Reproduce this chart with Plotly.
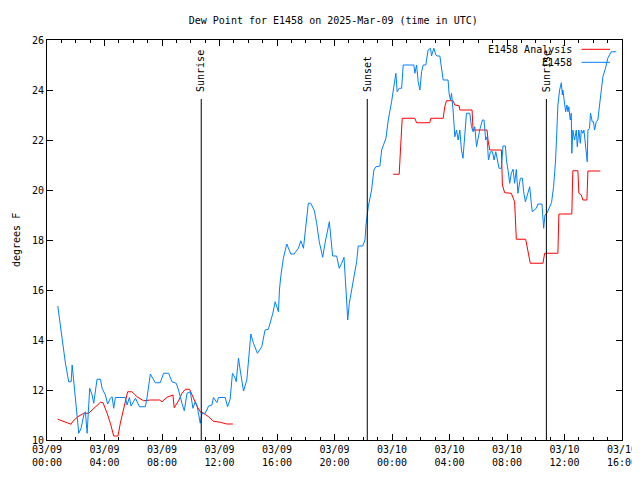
import plotly.graph_objects as go
from datetime import datetime, timedelta

# ---- data (hours after 2025-03-09 00:00 UTC, dew point in degrees F) ----
obs_hours = [0.75,0.94,1.28,1.51,1.68,1.75,1.82,1.98,2.14,2.21,2.37,2.56,2.67,2.79,2.97,3.14,3.25,3.48,3.72,3.83,
             4.06,4.22,4.41,4.53,4.64,4.76,5.45,5.57,5.73,5.85,6.15,6.44,6.84,6.96,7.19,7.53,7.88,8.11,8.46,8.69,
             8.99,9.15,9.39,9.55,9.74,9.97,10.15,10.31,10.43,10.54,10.66,10.78,11.01,11.24,11.47,11.58,11.82,11.93,
             12.4,12.56,12.74,12.9,13.09,13.16,13.32,13.44,13.67,13.9,14.08,14.18,14.36,14.64,14.94,15.17,15.4,
             15.71,15.87,16.03,16.1,16.17,16.26,16.44,16.68,16.96,17.19,17.49,17.66,17.84,18.0,18.18,18.35,18.6,
             18.76,18.94,19.18,19.34,19.64,19.87,20.15,20.33,20.5,20.66,20.8,20.92,21.03,21.31,21.54,21.65,21.96,
             22.12,22.19,22.35,22.58,22.74,22.88,23.16,23.28,23.58,23.74,23.97,24.2,24.27,24.36,24.5,24.67,24.78,
             25.52,25.59,25.71,25.82,25.94,26.06,26.17,26.35,26.51,26.68,26.75,26.91,27.05,27.14,27.33,27.47,27.56,
             27.9,27.97,28.07,28.14,28.25,28.37,28.49,28.6,28.72,28.83,28.94,29.06,29.18,29.41,29.53,29.64,29.76,
             29.88,29.99,30.1,30.29,30.4,30.52,30.61,30.71,30.85,30.99,31.1,31.22,31.31,31.45,31.61,31.72,31.89,
             31.96,32.07,32.19,32.3,32.42,32.53,32.65,32.76,32.93,33.07,33.16,33.28,33.46,33.58,33.69,33.76,34.04,
             34.15,34.43,34.5,34.55,34.64,34.78,34.97,35.1,35.24,35.38,35.47,35.54,35.66,35.78,35.85,35.89,35.96,
             36.08,36.17,36.24,36.3,36.4,36.47,36.51,36.58,36.7,36.82,36.89,37.0,37.1,37.17,37.28,37.35,37.44,
             37.51,37.58,37.63,37.74,37.81,37.93,38.02,38.09,38.21,38.32,38.44,38.56,38.67,38.85,39.01,39.25,39.6]
obs_values = [15.36,14.53,13.08,12.33,12.33,13.0,12.6,11.73,10.93,10.27,10.47,11.0,11.13,10.27,12.07,11.8,11.47,12.43,12.43,12.07,
              11.8,11.44,11.67,11.73,11.27,11.7,11.7,11.4,11.7,11.36,11.67,11.33,11.33,11.7,12.64,12.29,12.29,12.67,12.67,12.33,
              12.27,12.0,11.47,11.17,11.87,11.93,11.27,11.53,11.4,11.0,10.67,11.07,11.07,11.36,11.4,11.7,11.5,11.7,
              11.7,11.33,11.63,12.67,12.47,12.33,13.27,12.8,11.96,12.4,13.4,14.24,13.87,13.47,13.73,14.4,14.43,
              15.07,15.53,15.27,15.13,16.0,16.53,17.27,17.84,17.44,17.44,17.67,17.97,17.67,18.6,19.47,19.47,19.17,
              18.67,17.93,17.31,17.87,18.73,17.36,17.36,16.87,17.07,17.31,16.0,14.8,15.47,16.4,17.13,17.76,17.76,
              18.0,18.6,19.33,20.0,20.8,20.93,20.96,21.6,22.07,22.8,23.53,24.4,24.67,23.93,24.07,24.07,25.0,
              25.0,24.67,25.0,24.33,24.0,24.73,25.0,25.0,25.6,25.67,25.36,25.67,25.4,25.36,25.36,24.87,24.4,
              24.4,23.87,23.6,23.87,23.2,22.13,22.4,22.0,22.4,21.6,21.27,22.13,23.07,23.07,22.53,22.33,22.53,
              21.73,22.13,22.4,22.8,22.8,22.0,22.13,21.2,21.53,21.53,21.2,21.53,21.27,20.87,20.87,21.76,21.76,
              21.2,20.8,20.27,20.67,20.83,20.27,20.82,19.87,20.47,20.47,19.93,19.53,19.87,20.13,19.47,19.13,19.27,
              19.44,19.44,18.8,18.47,19.0,19.07,19.33,19.5,20.13,21.2,22.4,23.4,24.0,24.29,23.8,24.0,23.67,
              23.13,23.4,23.13,23.33,22.8,23.07,21.47,22.4,22.0,22.4,21.73,22.4,21.87,22.4,22.27,22.4,21.87,
              21.6,21.13,22.4,22.47,23.07,22.73,22.73,22.4,22.73,22.8,23.4,24.0,24.53,24.87,25.27,25.53,25.53]

ana_hours = [0.75,1.17,1.68,1.8,2.14,2.56,2.9,3.72,3.9,4.18,4.41,4.64,4.94,5.1,5.45,5.61,5.91,6.26,6.72,7.19,
             7.83,8.0,8.35,8.76,8.85,9.15,9.39,9.62,9.92,10.19,10.43,10.66,10.89,11.24,11.58,12.05,12.51,12.93,
             None,
             24.08,24.5,24.6,24.71,25.59,25.71,26.63,26.7,27.56,27.67,27.79,28.25,28.37,28.67,28.72,29.57,29.64,
             30.61,30.68,30.8,31.61,31.68,31.84,32.3,32.53,32.65,33.3,33.46,33.62,34.5,34.62,35.54,35.61,36.51,
             36.54,36.58,36.93,37.0,37.17,37.28,37.56,37.63,38.49]
ana_values = [10.83,10.75,10.63,10.75,10.93,11.07,11.07,11.51,11.49,11.07,10.67,10.16,10.16,10.67,11.6,11.93,11.93,11.73,11.57,11.6,
              11.6,11.53,11.71,11.8,11.29,11.57,11.87,12.03,12.03,11.67,11.36,11.13,11.07,10.93,10.75,10.71,10.64,10.64,
              None,
              20.63,20.63,21.73,22.87,22.87,22.69,22.69,22.87,22.87,23.33,23.57,23.57,23.4,23.37,23.2,23.2,22.4,
              22.4,22.0,21.6,21.6,20.2,19.89,19.87,19.53,18.03,18.03,17.53,17.07,17.07,17.47,17.47,19.04,19.04,
              19.93,20.77,20.77,19.87,19.8,19.6,19.6,20.76,20.76]

sun_labels = ["Sunrise", "Sunset", "Sunrise"]
sun_hours = [10.73, 22.28, 34.74]

series_names = ["E1458 Analysis", "E1458"]
title_text = "Dew Point for E1458 on 2025-Mar-09 (time in UTC)"
y_label = "degrees F"

base = datetime(2025, 3, 9)
def ts(h):
    return None if h is None else base + timedelta(hours=h)

FONT = "DejaVu Sans Mono"
RED = "#ff0000"
BLUE = "#0080ff"

# page has an 8px body margin, so the figure is sized/offset to land the
# plot frame at screen x 46.5..622, y 40..440
OFF = 8
W, H = 640 - OFF, 480 - OFF
ML, MR, MT, MB = 46.5 - OFF, 18, 40 - OFF, 40

fig = go.Figure()
fig.add_trace(go.Scatter(x=[ts(h) for h in ana_hours], y=ana_values, mode="lines",
                         name=series_names[0], line=dict(color=RED, width=1), connectgaps=False))
fig.add_trace(go.Scatter(x=[ts(h) for h in obs_hours], y=obs_values, mode="lines",
                         name=series_names[1], line=dict(color=BLUE, width=1)))

# sunrise / sunset markers
for lab, h in zip(sun_labels, sun_hours):
    fig.add_shape(type="line", xref="x", yref="y", x0=ts(h), x1=ts(h), y0=10, y1=23.64,
                  line=dict(color="black", width=1))
    fig.add_annotation(x=ts(h), y=23.85, xref="x", yref="y", text=lab, showarrow=False,
                       textangle=-90, xanchor="center", yanchor="bottom",
                       font=dict(family=FONT, size=10, color="black"))

# legend drawn gnuplot-style (text left of sample), positions in screen px
L, R, T, B = 46.5, 622, 40, 440
def px(x): return (x - L) / (R - L)
def py(y): return (B - y) / (B - T)
for name, col, yy in [(series_names[0], RED, 49.3), (series_names[1], BLUE, 62.3)]:
    fig.add_annotation(x=px(574), y=py(yy), xref="paper", yref="paper", text=name,
                       showarrow=False, xanchor="right", yanchor="middle",
                       font=dict(family=FONT, size=10, color="black"))
    fig.add_shape(type="line", xref="paper", yref="paper", x0=px(581.5), x1=px(610),
                  y0=py(yy), y1=py(yy), line=dict(color=col, width=1))

# y axis label (kept fully inside the figure)
fig.add_annotation(x=0, y=0.5, xref="paper", yref="paper", text=y_label, showarrow=False,
                   textangle=-90, xshift=-31, xanchor="center", yanchor="middle",
                   font=dict(family=FONT, size=10, color="black"))

fig.update_layout(
    width=W, height=H,
    margin=dict(l=ML, r=MR, t=MT, b=MB, autoexpand=False),
    paper_bgcolor="white", plot_bgcolor="white",
    showlegend=False,
    font=dict(family=FONT, size=10, color="black"),
    title=dict(text=title_text, x=px(333), xref="paper", xanchor="center",
               y=1 - (20 - OFF) / H, yref="container", yanchor="middle",
               font=dict(family=FONT, size=10, color="black")),
)
fig.update_xaxes(
    type="date",
    range=[ts(0), ts(40)],
    dtick=4 * 3600 * 1000, tick0=ts(0),
    tickformat="%m/%d<br>%H:%M",
    ticks="inside", ticklen=6, tickcolor="black", tickwidth=1,
    minor=dict(dtick=3600 * 1000, ticks="inside", ticklen=3, tickcolor="black", showgrid=False),
    showline=True, linecolor="black", linewidth=1, mirror="allticks",
    showgrid=False, zeroline=False,
    tickfont=dict(family=FONT, size=10, color="black"),
)
fig.update_yaxes(
    range=[10, 26], dtick=2, tick0=10,
    ticks="inside", ticklen=6, tickcolor="black", tickwidth=1,
    showline=True, linecolor="black", linewidth=1, mirror="allticks",
    showgrid=False, zeroline=False,
    tickfont=dict(family=FONT, size=10, color="black"),
)

fig.write_html("out.html")
